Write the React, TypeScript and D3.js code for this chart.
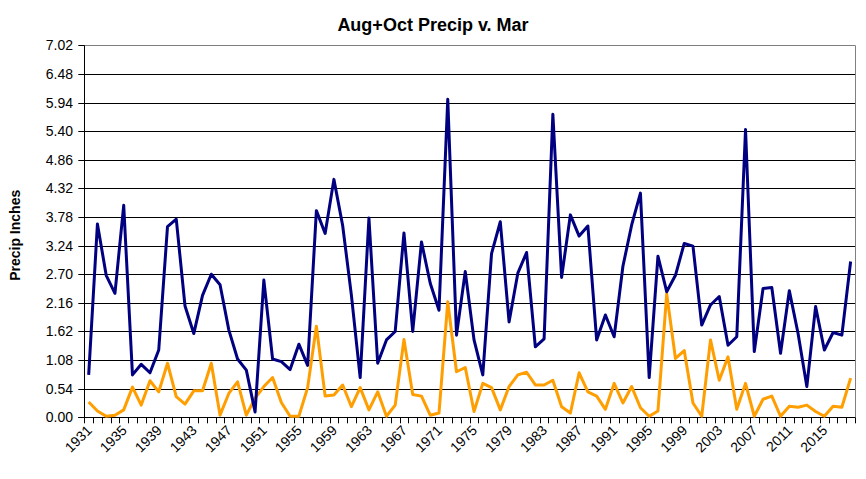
import React from "react";
import * as d3 from "d3";

const years: number[] = d3.range(1931, 2019);

const augOct: number[] = [
  0.80, 3.65, 2.68, 2.34, 4.00, 0.80, 1.00, 0.84, 1.27, 3.60,
  3.74, 2.10, 1.58, 2.30, 2.70, 2.50, 1.65, 1.10, 0.89, 0.10,
  2.59, 1.10, 1.05, 0.90, 1.38, 0.98, 3.90, 3.47, 4.49, 3.62,
  2.30, 0.75, 3.76, 1.02, 1.46, 1.62, 3.48, 1.62, 3.31, 2.53,
  2.02, 6.00, 1.55, 2.75, 1.46, 0.80, 3.09, 3.69, 1.80, 2.72,
  3.11, 1.33, 1.48, 5.72, 2.64, 3.82, 3.42, 3.61, 1.46, 1.93,
  1.52, 2.85, 3.63, 4.23, 0.75, 3.04, 2.37, 2.68, 3.28, 3.23,
  1.74, 2.12, 2.28, 1.36, 1.52, 5.43, 1.24, 2.43, 2.45, 1.21,
  2.39, 1.58, 0.58, 2.09, 1.27, 1.60, 1.55, 2.94,
];

const mar: number[] = [
  0.29, 0.12, 0.02, 0.04, 0.14, 0.57, 0.23, 0.69, 0.48, 1.02,
  0.39, 0.25, 0.50, 0.50, 1.02, 0.04, 0.45, 0.67, 0.04, 0.36,
  0.58, 0.75, 0.28, 0.02, 0.02, 0.56, 1.72, 0.40, 0.42, 0.61,
  0.20, 0.56, 0.14, 0.48, 0.02, 0.23, 1.47, 0.43, 0.40, 0.04,
  0.08, 2.18, 0.86, 0.94, 0.11, 0.64, 0.56, 0.14, 0.58, 0.80,
  0.85, 0.61, 0.61, 0.70, 0.20, 0.08, 0.84, 0.48, 0.40, 0.15,
  0.64, 0.27, 0.58, 0.18, 0.02, 0.12, 2.33, 1.11, 1.26, 0.27,
  0.02, 1.46, 0.70, 1.14, 0.15, 0.64, 0.02, 0.34, 0.40, 0.02,
  0.21, 0.19, 0.23, 0.11, 0.02, 0.21, 0.19, 0.74,
];

const yTicks: number[] = [0, 0.54, 1.08, 1.62, 2.16, 2.7, 3.24, 3.78, 4.32, 4.86, 5.4, 5.94, 6.48, 7.02];
const xLabelYears: number[] = years.filter((y) => (y - 1931) % 4 === 0);

const W = 866;
const H = 479;
const L = 84.3;
const R = 855;
const T = 45.3;
const B = 417.3;
const FONT = "'Liberation Sans', Arial, sans-serif";

export default function App() {
  const x = d3.scaleBand<number>().domain(years).range([L, R]).padding(0);
  const y = d3.scaleLinear().domain([0, 7.02]).range([B, T]);
  const cx = (yr: number) => (x(yr) as number) + x.bandwidth() / 2;

  const line = d3
    .line<number>()
    .x((_, i) => cx(years[i]))
    .y((d) => y(d));

  const boundaries = d3.range(years.length + 1).map((i) => L + i * x.bandwidth());

  return (
    <svg
      width={W}
      height={H}
      style={{ position: "absolute", left: 0, top: 0, background: "#fff" }}
    >
      <rect x={0} y={0} width={W} height={H} fill="#fff" />
      <text
        x={433}
        y={31}
        textAnchor="middle"
        fontFamily={FONT}
        fontWeight="bold"
        fontSize={18}
      >
        Aug+Oct Precip v. Mar
      </text>
      <text
        transform={`translate(20, ${(T + B) / 2 + 4}) rotate(-90)`}
        textAnchor="middle"
        fontFamily={FONT}
        fontWeight="bold"
        fontSize={14}
      >
        Precip Inches
      </text>
      {yTicks.map((t) => (
        <line
          key={"g" + t}
          x1={L}
          x2={R}
          y1={Math.round(y(t)) + 0.5}
          y2={Math.round(y(t)) + 0.5}
          stroke={t === 7.02 ? "#808080" : "#000"}
          strokeWidth={1}
        />
      ))}
      <line x1={R + 0.5} x2={R + 0.5} y1={T} y2={B} stroke="#808080" strokeWidth={1} />
      {yTicks.map((t) => (
        <g key={"t" + t}>
          <line
            x1={L - 6}
            x2={L}
            y1={Math.round(y(t)) + 0.5}
            y2={Math.round(y(t)) + 0.5}
            stroke="#000"
          />
          <text
            x={73}
            y={y(t) + 5}
            textAnchor="end"
            fontFamily={FONT}
            fontSize={14}
          >
            {t.toFixed(2)}
          </text>
        </g>
      ))}
      <line x1={Math.round(L) + 0.5} x2={Math.round(L) + 0.5} y1={T} y2={B + 1} stroke="#000" />
      <line x1={L - 6} x2={R} y1={Math.round(B) + 0.5} y2={Math.round(B) + 0.5} stroke="#000" />
      {boundaries.map((bx, i) => (
        <line
          key={"xt" + i}
          x1={Math.round(bx) + 0.5}
          x2={Math.round(bx) + 0.5}
          y1={B}
          y2={B + 6}
          stroke="#000"
        />
      ))}
      {xLabelYears.map((yr) => (
        <text
          key={"xl" + yr}
          transform={`translate(${cx(yr) + 4}, ${B + 14}) rotate(-45)`}
          textAnchor="end"
          fontFamily={FONT}
          fontSize={14}
        >
          {yr}
        </text>
      ))}
      <path d={line(mar) || ""} fill="none" stroke="#FF9E00" strokeWidth={3} strokeLinejoin="round" />
      <path d={line(augOct) || ""} fill="none" stroke="#000080" strokeWidth={3} strokeLinejoin="round" />
    </svg>
  );
}
